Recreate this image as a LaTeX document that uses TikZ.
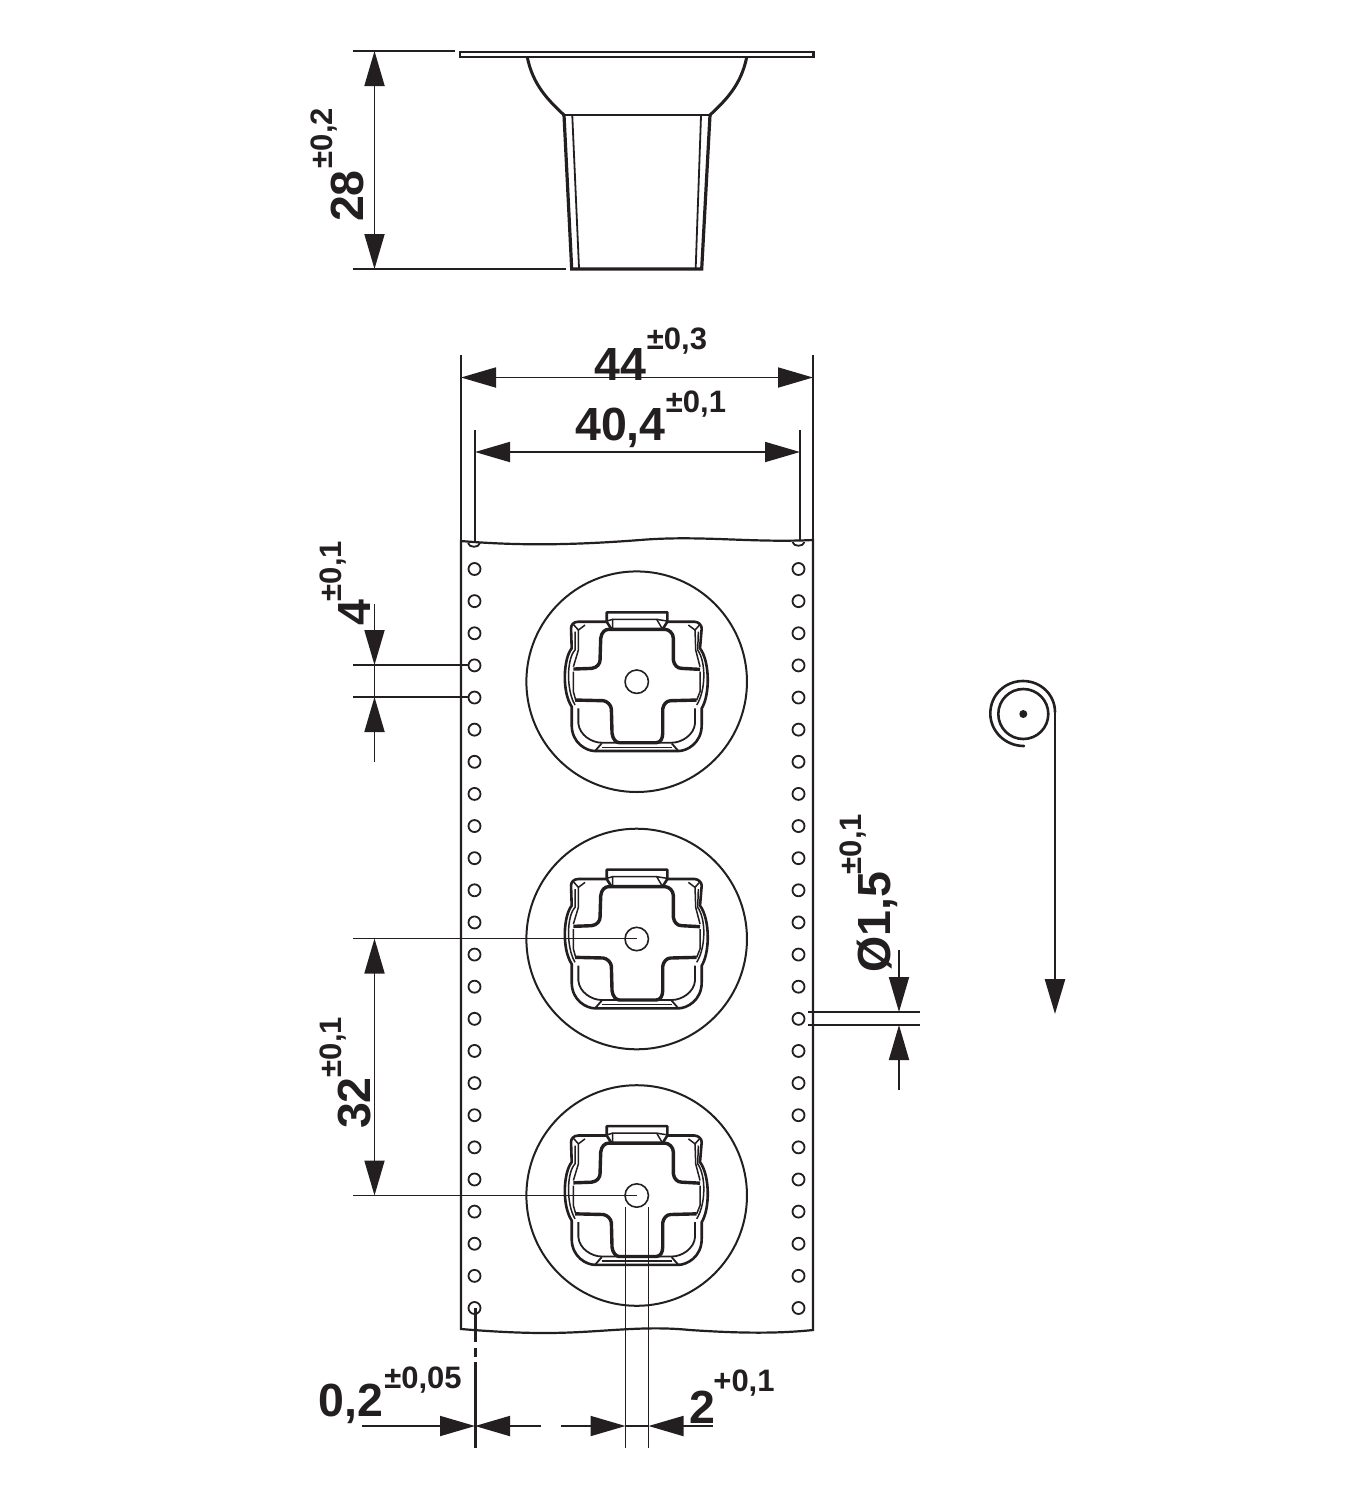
\documentclass[tikz,border=0pt]{standalone}
\usepackage{fontspec}
\setmainfont{Liberation Sans}
\usetikzlibrary{arrows.meta}
\definecolor{ink}{HTML}{231F20}
\tikzset{
  thinl/.style={draw=ink,line width=1.8pt},
  thickl/.style={draw=ink,line width=3.4pt,line join=round},
  dimarrow/.style={thinl,-{Triangle[length=35pt,width=20pt,color=ink]}},
  dimboth/.style={thinl,{Triangle[length=35pt,width=20pt,color=ink]}-{Triangle[length=35pt,width=20pt,color=ink]}},
  main/.style={font=\fontsize{46.5}{46.5}\selectfont\bfseries,text=ink,inner sep=0pt},
  supt/.style={font=\fontsize{31}{31}\selectfont\bfseries,text=ink,inner sep=0pt},
  hole/.style={draw=ink,line width=1.8pt},
  cup/.pic={
    \begin{scope}[x=0.3333pt,y=-0.3333pt]
      \draw[draw=ink,line width=2pt] (-331,0) arc[start angle=180,end angle=-180,radius=110.3pt];
      \draw[draw=ink,line width=1.6pt] (-35,0) arc[start angle=180,end angle=-180,radius=11.7pt];
      % tab
      \draw[draw=ink,line width=2.6pt,line join=round] (-90,-180) -- (-90,-208) -- (92,-208) -- (92,-180) -- (78,-158);
      \draw[draw=ink,line width=2.6pt,line join=round] (-90,-180) -- (-76,-158);
      \draw[draw=ink,line width=1.5pt] (-72,-158) -- (-72,-187) -- (60,-187) -- (76,-160);
      \draw[draw=ink,line width=1.5pt] (-90,-182) -- (-72,-187);
      \draw[draw=ink,line width=1.5pt] (92,-182) -- (60,-187);
      % outer
      \draw[draw=ink,line width=2.6pt,line join=round] (-90,-180) -- (-175,-180) .. controls (-190,-180) and (-197,-170) .. (-197,-160)
        -- (-195,-100) .. controls (-220,-70) and (-225,30) .. (-195,75)
        -- (-195,130) .. controls (-195,185) and (-150,208) .. (-125,208)
        -- (125,208) .. controls (150,208) and (195,185) .. (195,130)
        -- (195,80) .. controls (220,40) and (220,-60) .. (190,-100)
        -- (195,-160) .. controls (195,-170) and (185,-180) .. (173,-180) -- (92,-180);
      % inner outline
      \draw[draw=ink,line width=1.5pt] (-185,-150) -- (-185,-95) .. controls (-210,-70) and (-212,25) .. (-185,70);
      \draw[draw=ink,line width=1.5pt] (-190,-172) -- (-175,-155) -- (-155,-170);
      \draw[draw=ink,line width=1.5pt] (190,-172) -- (175,-155) -- (155,-170);
      \draw[draw=ink,line width=1.5pt] (-175,-155) -- (-175,-95) -- (-190,-45);
      \draw[draw=ink,line width=1.5pt] (175,-155) -- (177,-95) -- (190,-45);
      \draw[draw=ink,line width=1.5pt] (185,-150) -- (183,-95) .. controls (208,-60) and (208,25) .. (180,70);
      % upper cross
      \draw[thickl] (-190,-38) -- (-135,-40) .. controls (-118,-42) and (-110,-55) .. (-110,-65)
        -- (-108,-130) .. controls (-106,-148) and (-95,-157) .. (-85,-157)
        -- (85,-157) .. controls (97,-157) and (110,-145) .. (110,-130)
        -- (110,-65) .. controls (112,-50) and (122,-40) .. (135,-40) -- (190,-37);
      % lower cross
      \draw[thickl] (-185,55) -- (-100,57) .. controls (-88,59) and (-77,70) .. (-76,82)
        -- (-74,155) .. controls (-72,172) and (-62,183) .. (-52,183)
        -- (58,183) .. controls (72,183) and (78,170) .. (78,155)
        -- (78,82) .. controls (80,68) and (90,57) .. (102,57) -- (180,55);
      % side curves
      \draw[draw=ink,line width=1.5pt] (-190,-30) -- (-190,30) -- (-183,55);
      \draw[draw=ink,line width=1.5pt] (190,-30) -- (190,30) -- (180,55);
      % lower pockets
      \draw[draw=ink,line width=1.8pt] (-175,80) -- (-175,125) .. controls (-172,160) and (-135,183) .. (-105,183) -- (-52,183);
      \draw[draw=ink,line width=1.8pt] (175,80) -- (175,125) .. controls (172,160) and (135,183) .. (105,183) -- (58,183);
      \draw[draw=ink,line width=1.8pt] (-125,208) -- (-105,185);
      \draw[draw=ink,line width=1.8pt] (125,208) -- (105,185);
      \draw[draw=ink,line width=1.4pt] (-105,197) -- (105,197);
    \end{scope}
  }
}
\begin{document}
\begin{tikzpicture}[x=1pt,y=-1pt]
\useasboundingbox (0,0) rectangle (1371,1500);
\fill[white] (0,0) rectangle (1371,1500);

% ---- side view
\draw[draw=ink,line width=2.4pt,fill=white] (460,52.2) rectangle (813.5,56.8);
\draw[draw=ink,line width=3pt] (527.3,57.3) .. controls (533,85) and (548,100) .. (564,115);
\draw[draw=ink,line width=3pt] (746.7,57.3) .. controls (741,85) and (726,100) .. (710,115);
\draw[draw=ink,line width=1.8pt] (564,115) -- (710,115);
\draw[draw=ink,line width=3.2pt,line join=miter] (564,115) -- (571.7,269) -- (701.7,269) -- (710,115);
\draw[draw=ink,line width=1.8pt] (572.3,116) -- (579,268);
\draw[draw=ink,line width=1.8pt] (701,116) -- (695.7,268);
\coordinate (e28a) at (353,51);
\coordinate (e28aa) at (455,51);
\coordinate (e28b) at (353,269);
\coordinate (e28bb) at (566,269);
\coordinate (d28a) at (374.5,51);
\coordinate (d28b) at (374.5,269);
\draw[thinl] (e28a) -- (e28aa);
\draw[thinl] (e28b) -- (e28bb);
\draw[dimboth] (d28a) -- (d28b);
\node[main,rotate=90] (t28) at (347,196) {28};
\node[supt,rotate=90] (s28) at (324,138) {±0,2};

% ---- strip
\draw[draw=ink,line width=2.2pt,line join=miter] (461,541)
  .. controls (520,546) and (575,545) .. (640,540)
  .. controls (700,535) and (750,543) .. (813,540)
  -- (813,1330)
  .. controls (775,1334) and (735,1333) .. (690,1330)
  .. controls (640,1325) and (600,1333) .. (545,1333)
  .. controls (515,1333) and (485,1331) .. (461,1329)
  -- cycle;
\foreach \k in {0,...,23}{
  \pgfmathsetmacro{\yy}{569+32.13*\k}
  \draw[hole] (474.5,\yy) circle[radius=6pt];
  \draw[hole] (798.5,\yy) circle[radius=6pt];
}
\draw[hole] (468,543) .. controls (469,548) and (479,548) .. (480,543);
\draw[hole] (792.5,542) .. controls (793.5,547) and (803.5,547) .. (804.5,542);

% ---- cups
\pic at (636.7,681.7) {cup};
\pic at (636.7,939) {cup};
\pic at (636.7,1195.5) {cup};

% ---- dim 44
\coordinate (e44a) at (461,355);
\coordinate (e44aa) at (461,541);
\coordinate (e44b) at (813,355);
\coordinate (e44bb) at (813,541);
\coordinate (d44a) at (461,377.5);
\coordinate (d44b) at (813,377.5);
\draw[thinl] (e44a) -- (e44aa);
\draw[thinl] (e44b) -- (e44bb);
\draw[dimboth] (d44a) -- (d44b);
\node[main] (t44) at (620.5,364) {44};
\node[supt] (s44) at (677,341) {±0,3};

% ---- dim 40,4
\coordinate (e40a) at (475,430);
\coordinate (e40aa) at (475,541);
\coordinate (e40b) at (800,430);
\coordinate (e40bb) at (800,541);
\coordinate (d40a) at (475,452);
\coordinate (d40b) at (800,452);
\draw[thinl] (e40a) -- (e40aa);
\draw[thinl] (e40b) -- (e40bb);
\draw[dimboth] (d40a) -- (d40b);
\node[main] (t40) at (620.5,428) {40,4};
\node[supt] (s40) at (696,404) {±0,1};

% ---- dim 4
\coordinate (e4a) at (353,665);
\coordinate (e4aa) at (468,665);
\coordinate (e4b) at (353,697);
\coordinate (e4bb) at (468,697);
\coordinate (d4a) at (374.5,604);
\coordinate (d4aa) at (374.5,665);
\coordinate (d4b) at (374.5,762);
\coordinate (d4bb) at (374.5,697);
\draw[thinl] (e4a) -- (e4aa);
\draw[thinl] (e4b) -- (e4bb);
\draw[dimarrow] (d4a) -- (d4aa);
\draw[dimarrow] (d4b) -- (d4bb);
\draw[thinl] (d4aa) -- (d4bb);
\node[main,rotate=90] (t4) at (355,613) {4};
\node[supt,rotate=90] (s4) at (333,571) {±0,1};

% ---- dim 32
\coordinate (e32a) at (353,938.5);
\coordinate (e32aa) at (636.7,938.5);
\coordinate (e32b) at (353,1195.5);
\coordinate (e32bb) at (636.7,1195.5);
\coordinate (d32a) at (374.5,938.5);
\coordinate (d32b) at (374.5,1195.5);
\draw[thinl] (e32a) -- (e32aa);
\draw[thinl] (e32b) -- (e32bb);
\draw[dimboth] (d32a) -- (d32b);
\node[main,rotate=90] (t32) at (355,1103) {32};
\node[supt,rotate=90] (s32) at (333,1047) {±0,1};

% ---- dim dia 1,5
\coordinate (e15a) at (808,1012);
\coordinate (e15aa) at (920,1012);
\coordinate (e15b) at (808,1025);
\coordinate (e15bb) at (920,1025);
\coordinate (d15a) at (899,950);
\coordinate (d15aa) at (899,1012);
\coordinate (d15b) at (899,1090);
\coordinate (d15bb) at (899,1025);
\draw[thinl] (e15a) -- (e15aa);
\draw[thinl] (e15b) -- (e15bb);
\draw[dimarrow] (d15a) -- (d15aa);
\draw[dimarrow] (d15b) -- (d15bb);
\node[main,rotate=90] (t15) at (877,922) {Ø1,5};
\node[supt,rotate=90] (s15) at (853,844) {±0,1};

% ---- bottom dims
\coordinate (v02a) at (475,1308);
\coordinate (v02b) at (475,1342);
\coordinate (v02c) at (475,1348);
\coordinate (v02d) at (475,1357);
\coordinate (v02e) at (475,1362);
\coordinate (v02f) at (475,1448);
\draw[draw=ink,line width=3pt] (v02a) -- (v02b);
\draw[draw=ink,line width=3pt] (v02c) -- (v02d);
\draw[draw=ink,line width=3pt] (v02e) -- (v02f);
\coordinate (v2a) at (625.5,1207);
\coordinate (v2aa) at (625.5,1448);
\coordinate (v2b) at (648.5,1207);
\coordinate (v2bb) at (648.5,1448);
\draw[thinl] (v2a) -- (v2aa);
\draw[thinl] (v2b) -- (v2bb);
\coordinate (h1) at (362,1426);
\coordinate (h1t) at (475,1426);
\coordinate (h2) at (541,1426);
\coordinate (h3) at (561,1426);
\coordinate (h3t) at (625.5,1426);
\coordinate (h4) at (713,1426);
\coordinate (h4t) at (648.5,1426);
\draw[dimarrow] (h1) -- (h1t);
\draw[dimarrow] (h2) -- (h1t);
\draw[dimarrow] (h3) -- (h3t);
\draw[dimarrow] (h4) -- (h4t);
\draw[thinl] (h3t) -- (h4t);
\node[main] (t02) at (351,1404) {0,2};
\node[supt] (s02) at (423,1380) {±0,05};
\node[main] (t2) at (702,1407) {2};
\node[supt] (s2) at (744,1383) {+0,1};

% ---- coil
\coordinate (coilstart) at (1055,712);
\coordinate (coilend) at (1055,1014);
\node[circle,fill=ink,inner sep=0pt,minimum size=8pt] (coilc) at (1023.3,714) {};
\draw[draw=ink,line width=2.6pt] (coilc) ++(25,0) arc[start angle=0,end angle=360,radius=25pt];
\draw[draw=ink,line width=2.6pt,line cap=round] (1024,746)
  .. controls (1005,746) and (990.3,731) .. (990.3,713.5)
  .. controls (990.3,695) and (1005,681) .. (1023,681)
  .. controls (1041,681) and (1055,695) .. (coilstart);
\draw[dimarrow,line width=2.6pt] (coilstart) -- (coilend);
\end{tikzpicture}
\end{document}
